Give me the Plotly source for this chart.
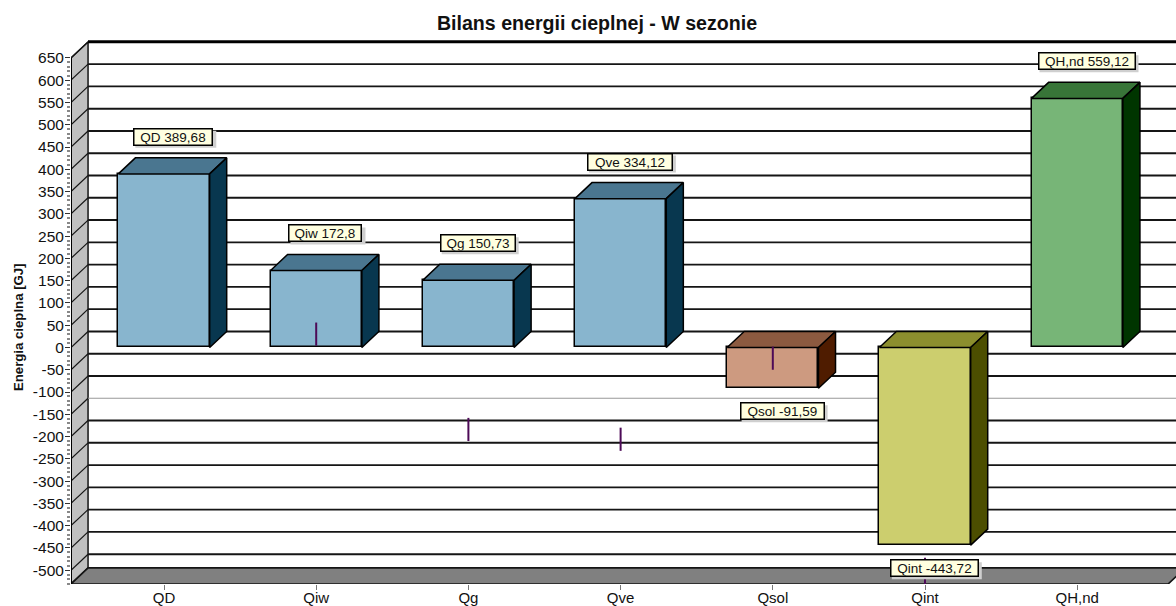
import plotly.graph_objects as go

# Heat balance for the heating season, GJ
categories = ["QD", "Qiw", "Qg", "Qve", "Qsol", "Qint", "QH,nd"]
values = [389.68, 172.8, 150.73, 334.12, -91.59, -443.72, 559.12]
value_labels = ["389,68", "172,8", "150,73", "334,12", "-91,59", "-443,72", "559,12"]
spike_low = [None, 4, -210, -232, -50, -578, None]
spike_high = [None, 56, -158, -180, 2, -472, None]
y_ticks = list(range(-500, 651, 50))

front_colors = ["#88b5ce", "#88b5ce", "#88b5ce", "#88b5ce", "#cd9a80", "#ccce6e", "#77b577"]
top_colors = ["#4a7690", "#4a7690", "#4a7690", "#4a7690", "#8c5a40", "#8c8e2e", "#387538"]
side_colors = ["#08374f", "#08374f", "#08374f", "#08374f", "#4f1c00", "#4c4e00", "#003500"]
box_widths = [80, 74, 76, 86, 85, 89, 98]

# Depth of the pseudo-3D box, in axis units
DX = 0.112
DY = 36.0
BAR_W = 0.6
Y_MIN, Y_MAX = -530.9, 690.2
BACK_TOP = 650 + DY
X_MIN, X_MAX = -0.611, 6.649
FLOOR_END = 6.597
DARK = "#151515"
FONT = "Liberation Sans, Arial, sans-serif"

fig = go.Figure()
shapes = []


def poly(points, fill, line="black", width=1.5, layer="below"):
    path = "M" + " L".join(f"{x},{y}" for x, y in points) + " Z"
    return dict(type="path", path=path, fillcolor=fill, xref="x", yref="y", layer=layer,
                line=dict(color=line, width=width))


def segment(x0, y0, x1, y1, color=DARK, width=1.9):
    return dict(type="line", x0=x0, y0=y0, x1=x1, y1=y1, xref="x", yref="y", layer="below",
                line=dict(color=color, width=width))


# Side wall and floor of the box
shapes.append(poly([(X_MIN, Y_MIN), (X_MIN + DX, Y_MIN + DY), (X_MIN + DX, BACK_TOP),
                    (X_MIN, 650)], "#c0c0c0", DARK, 1.5))
shapes.append(poly([(X_MIN, Y_MIN), (X_MIN + DX, Y_MIN + DY), (FLOOR_END + DX, Y_MIN + DY),
                    (FLOOR_END, Y_MIN)], "#808080", DARK, 1.7))

# Grid: a slanted run across the wall, then a straight run along the back
for tick in y_ticks:
    shapes.append(segment(X_MIN, tick, X_MIN + DX, tick + DY, DARK, 1.2))
    if tick == -150:
        shapes.append(segment(X_MIN + DX, tick + DY, X_MAX, tick + DY, "#999999", 1.2))
    elif tick < 650:
        shapes.append(segment(X_MIN + DX, tick + DY, X_MAX, tick + DY, DARK, 1.9))
shapes.append(segment(X_MIN + DX, BACK_TOP, X_MAX, BACK_TOP, "black", 3))
shapes.append(segment(X_MIN, Y_MIN, X_MIN, 650, "black", 2))

# Front faces
fig.add_trace(go.Bar(x=list(range(len(values))), y=values, width=BAR_W,
                     marker=dict(color=front_colors, line=dict(color="black", width=1.5)),
                     hoverinfo="skip", showlegend=False))

# Top and side faces
for i, v in enumerate(values):
    left, right = i - BAR_W / 2, i + BAR_W / 2
    high = max(v, 0)
    low = min(v, 0)
    fig.add_trace(go.Scatter(x=[left, left + DX, right + DX, right, left],
                             y=[high, high + DY, high + DY, high, high], mode="lines",
                             fill="toself", fillcolor=top_colors[i],
                             line=dict(color="black", width=1.5),
                             hoverinfo="skip", showlegend=False))
    fig.add_trace(go.Scatter(x=[right, right + DX, right + DX, right, right],
                             y=[high, high + DY, low + DY, low, high], mode="lines",
                             fill="toself", fillcolor=side_colors[i],
                             line=dict(color="black", width=1.5),
                             hoverinfo="skip", showlegend=False))

# Faint rule just under the floor edge
fig.add_trace(go.Scatter(x=[-0.39, 6.4], y=[Y_MIN - 2.5, Y_MIN - 2.5], mode="lines", cliponaxis=False,
                         line=dict(color="#999999", width=1), hoverinfo="skip", showlegend=False))

# Purple markers
for i, (lo, hi) in enumerate(zip(spike_low, spike_high)):
    if lo is None:
        continue
    fig.add_trace(go.Scatter(x=[i, i], y=[lo, hi], mode="lines", cliponaxis=False,
                             line=dict(color="#4d0a57", width=2),
                             hoverinfo="skip", showlegend=False))

# Value captions with a soft drop shadow
annotations = []
for i, (name, text, v) in enumerate(zip(categories, value_labels, values)):
    ax = i + DX / 2 + 0.005
    ay = v + DY if v >= 0 else v
    shift = 21 if v >= 0 else -23
    half = box_widths[i] / 2
    shapes.append(dict(type="rect", xref="x", yref="y", layer="above",
                       xsizemode="pixel", ysizemode="pixel", xanchor=ax, yanchor=ay,
                       x0=-half + 2, x1=half + 3, y0=shift - 11, y1=shift + 6,
                       fillcolor="#cfcfcf", line=dict(width=0)))
    annotations.append(dict(x=ax, y=ay, xref="x", yref="y", yshift=shift,
                            text=f"{name} {text}", showarrow=False, width=box_widths[i] - 3,
                            height=15, bgcolor="#ffffe0", bordercolor="black", borderwidth=1.5,
                            borderpad=0, valign="middle",
                            font=dict(family=FONT, size=13.5, color="#111111")))

# Axis caption, centred on the value scale rather than on the plot area
annotations.append(dict(x=(18 - 71) / 1105, y=(584 - 327) / 544, xref="paper", yref="paper",
                        xanchor="center", yanchor="middle",
                        text="<b>Energia cieplna [GJ]</b>", textangle=-90, showarrow=False,
                        font=dict(family=FONT, size=13.2, color="#111111")))

fig.update_layout(
    width=1176, height=606, paper_bgcolor="white", plot_bgcolor="white",
    margin=dict(l=71, r=0, t=40, b=22, autoexpand=False),
    bargap=0, showlegend=False, shapes=shapes, annotations=annotations,
    title=dict(text="<b>Bilans energii cieplnej - W sezonie</b>", x=597 / 1176, xanchor="center",
               y=1 - 23 / 606, yanchor="middle", font=dict(family=FONT, size=19.6, color="#111111")),
    xaxis=dict(range=[X_MIN, X_MAX], tickmode="array", tickvals=list(range(len(categories))),
               ticktext=categories, ticks="outside", ticklen=5, tickcolor="#777777", tickwidth=1,
               showgrid=False, zeroline=False, showline=False, ticklabelstandoff=-5,
               tickfont=dict(family=FONT, size=15, color="#111111")),
    yaxis=dict(range=[Y_MIN, Y_MAX], tickmode="array", tickvals=y_ticks,
               ticktext=[str(t) for t in y_ticks], ticks="outside", ticklen=5,
               tickcolor="#333333", tickwidth=1.2, showgrid=False, zeroline=False, showline=False,
               ticklabelstandoff=-2,
               minor=dict(tickmode="array", tickvals=[t for t in range(-530, 650, 10) if t % 50],
                          ticks="outside", ticklen=3, tickcolor="#888888", tickwidth=1.5),
               tickfont=dict(family=FONT, size=15.5, color="#111111")),
)

fig.write_html("out.html")
